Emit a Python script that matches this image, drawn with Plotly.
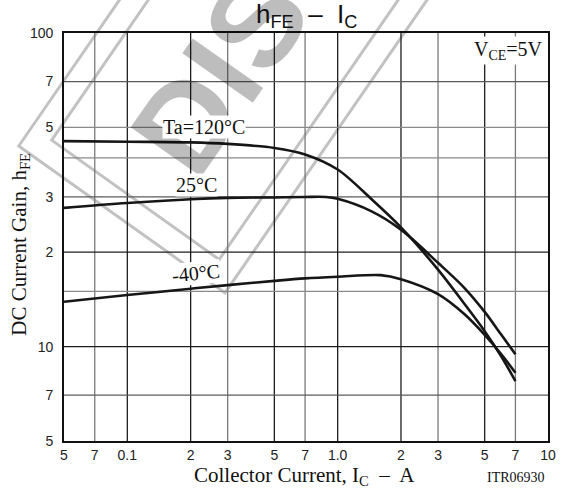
import numpy as np
import plotly.graph_objects as go

# ---- data ----
ic_120 = [0.05, 0.1, 0.2, 0.3, 0.5, 0.7, 1.0, 1.45, 2.0, 3.0, 4.0, 5.0, 6.0, 7.0]
hfe_120 = [45.2, 45.0, 44.8, 44.3, 43.0, 41.0, 36.7, 29.5, 24.0, 17.6, 13.7, 11.2, 9.3, 7.76]

ic_25 = [0.05, 0.1, 0.2, 0.3, 0.5, 0.7, 0.88, 1.0, 1.45, 2.0, 3.0, 4.0, 5.0, 6.0, 7.0]
hfe_25 = [27.7, 28.7, 29.5, 29.8, 29.9, 30.0, 30.0, 29.6, 27.0, 23.6, 18.5, 15.4, 12.9, 10.9, 9.45]

ic_m40 = [0.05, 0.1, 0.2, 0.3, 0.5, 0.7, 1.0, 1.6, 2.0, 3.0, 4.0, 5.0, 6.0, 7.0]
hfe_m40 = [13.9, 14.6, 15.3, 15.7, 16.2, 16.5, 16.7, 16.9, 16.4, 14.7, 12.7, 10.9, 9.45, 8.25]

x_tickvals = [0.05, 0.07, 0.1, 0.2, 0.3, 0.5, 0.7, 1, 2, 3, 5, 7, 10]
x_ticktext = ["5", "7", "0.1", "2", "3", "5", "7", "1.0", "2", "3", "5", "7", "10"]
y_tickvals = [5, 7, 10, 20, 30, 50, 70, 100]
y_ticktext = ["5", "7", "10", "2", "3", "5", "7", "100"]

grid_x_dark = [0.1, 0.2, 0.5, 1, 2, 5]
grid_x_light = [0.07, 0.3, 0.7, 3, 7]
grid_y_dark = [10, 20]
grid_y_mid = [7, 30, 70]
grid_y_light = [15, 40, 50]

# ---- layout geometry (pixels) ----
W, H = 566, 490
ML, MR, MT, MB = 64, 10, 33, 49
PW, PH = W - ML - MR, H - MT - MB


def px(xp):
    return (xp - ML) / PW


def py(yp):
    return (H - MB - yp) / PH


fig = go.Figure()
for xs, ys in [(ic_120, hfe_120), (ic_25, hfe_25), (ic_m40, hfe_m40)]:
    fig.add_trace(go.Scatter(x=xs, y=ys, mode="lines",
                             line=dict(color="#161616", width=2.6, shape="spline", smoothing=0.9),
                             showlegend=False, hoverinfo="skip"))

shapes = []
# watermark frame (double rotated rectangle)
u = np.array([0.574, -0.819])
v = np.array([0.819, 0.574])
for inset in [0, 24]:
    L = np.array([18.0, 146.0]) + inset * (u + v)
    B = L + (256 - 2 * inset) * v
    T = L + 800 * u
    R = B + 800 * u
    pts = [L, B, R, T]
    path = "M " + " L ".join(f"{px(p[0]):.4f},{py(p[1]):.4f}" for p in pts) + " Z"
    shapes.append(dict(type="path", path=path, xref="paper", yref="paper",
                       line=dict(color="#c2c2c2", width=3), layer="below"))

for gv in grid_x_light:
    shapes.append(dict(type="line", xref="x", yref="paper", x0=gv, x1=gv, y0=0, y1=1,
                       line=dict(color="#7a7a7a", width=1.3), layer="below"))
for gv in grid_x_dark:
    shapes.append(dict(type="line", xref="x", yref="paper", x0=gv, x1=gv, y0=0, y1=1,
                       line=dict(color="#1e1e1e", width=1.3), layer="below"))
for gv, col in [(g, "#8a8a8a") for g in grid_y_light] + [(g, "#5a5a5a") for g in grid_y_mid] + [(g, "#1e1e1e") for g in grid_y_dark]:
    shapes.append(dict(type="line", xref="paper", yref="y", x0=0, x1=1, y0=gv, y1=gv,
                       line=dict(color=col, width=1.3), layer="below"))

serif = "Liberation Serif, Times New Roman, serif"
sans = "Liberation Sans, Arial, sans-serif"

annotations = [
    # watermark text
    dict(text="<b>DISC</b>", xref="paper", yref="paper", x=px(250), y=py(36), textangle=-55,
         showarrow=False, font=dict(family=sans, size=125, color="rgba(0,0,0,0.26)"),
         xanchor="center", yanchor="middle"),
    dict(text="Ta=120°C", xref="paper", yref="paper", x=px(206.5), y=py(127),
         showarrow=False, font=dict(family=serif, size=20, color="#111"), bgcolor="white",
         xanchor="center", yanchor="middle", borderpad=0),
    dict(text="25°C", xref="paper", yref="paper", x=px(198.5), y=py(185),
         showarrow=False, font=dict(family=serif, size=20, color="#111"), bgcolor="white",
         xanchor="center", yanchor="middle", borderpad=0),
    dict(text="-40°C", xref="paper", yref="paper", x=px(198.5), y=py(273), textangle=-6,
         showarrow=False, font=dict(family=serif, size=20, color="#111"), bgcolor="white",
         xanchor="center", yanchor="middle", borderpad=0),
    dict(text="V<sub>CE</sub>=5V", xref="paper", yref="paper", x=px(553), y=py(36),
         showarrow=False, font=dict(family=serif, size=20, color="#111"), bgcolor="white",
         xanchor="right", yanchor="top", borderpad=1),
    dict(text="Collector Current, I<sub>C</sub>  \u2013  A", xref="paper", yref="paper",
         x=px(308), y=py(476), showarrow=False, font=dict(family=serif, size=21, color="#111"),
         xanchor="center", yanchor="middle"),
    dict(text="DC Current Gain, h<sub>FE</sub>", xref="paper", yref="paper",
         x=px(19), y=py(244), textangle=-90, showarrow=False,
         font=dict(family=serif, size=21, color="#111"), xanchor="center", yanchor="middle"),
    dict(text="ITR06930", xref="paper", yref="paper", x=px(523), y=py(478), showarrow=False,
         font=dict(family=serif, size=14, color="#111"), xanchor="center", yanchor="middle"),
    dict(text="h<sub>FE</sub>  \u2013  I<sub>C</sub>", xref="paper", yref="paper",
         x=px(311), y=py(16), showarrow=False, font=dict(family=sans, size=26, color="#111"),
         xanchor="center", yanchor="middle"),
]

fig.update_layout(
    width=W, height=H,
    margin=dict(l=ML, r=MR, t=MT, b=MB),
    paper_bgcolor="white", plot_bgcolor="rgba(0,0,0,0)",
    shapes=shapes, annotations=annotations, showlegend=False,
)
fig.update_xaxes(type="log", range=[np.log10(0.05), 1], tickvals=x_tickvals, ticktext=x_ticktext,
                 showgrid=False, zeroline=False, showline=True, mirror=True, linecolor="#111",
                 linewidth=1.6, ticks="",
                 tickfont=dict(family=sans, size=14, color="#222"))
fig.update_yaxes(type="log", range=[np.log10(5), 2], tickvals=y_tickvals, ticktext=y_ticktext,
                 showgrid=False, zeroline=False, showline=True, mirror=True, linecolor="#111",
                 linewidth=1.6, ticks="outside", ticklen=6, tickcolor="rgba(0,0,0,0)",
                 tickfont=dict(family=sans, size=14, color="#222"))

fig.write_html("out.html", config={"displayModeBar": False},
               post_script="document.body.style.margin='0';document.body.style.overflow='hidden';")
